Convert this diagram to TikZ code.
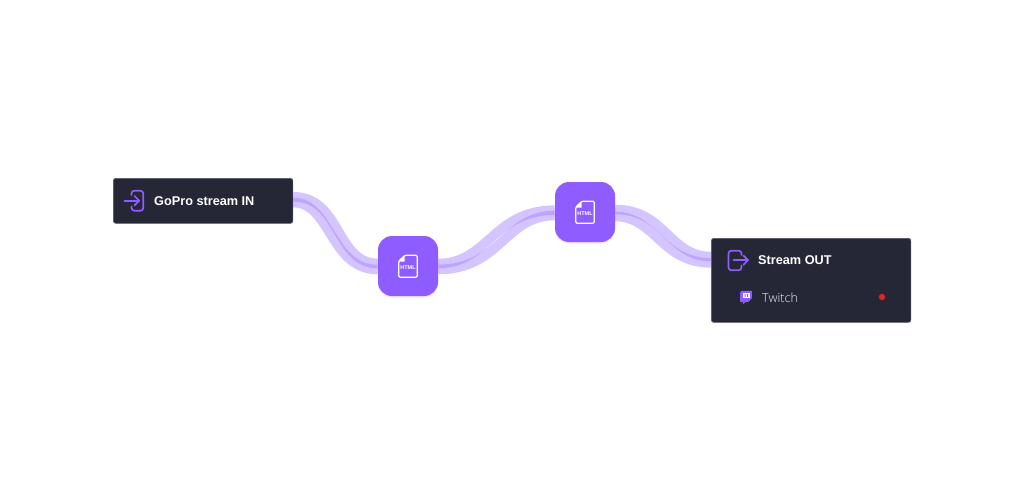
\documentclass[tikz,border=0pt]{standalone}
\usepackage{fontspec}
\usepackage{tikz}
\usetikzlibrary{backgrounds}
\usetikzlibrary{positioning}
\setmainfont{Liberation Sans}
\newfontfamily\thinfont{Open Sans Light}
\definecolor{panel}{HTML}{252736}
\definecolor{panelrim}{HTML}{55576A}
\definecolor{violet}{HTML}{8F5CFF}
\definecolor{wirecol}{HTML}{A583FF}
\definecolor{dotred}{HTML}{DC2626}
\definecolor{glow}{HTML}{F3C8FF}

\begin{document}
\begin{tikzpicture}[
      x=1pt,y=-1pt,
      panelbox/.style={draw=panelrim,line width=0.7pt,fill=panel,rounded corners=2.5pt,inner sep=0pt,anchor=north west},
      htmlbox/.style={fill=violet,rounded corners=14pt,minimum size=60pt,inner sep=0pt,
          preaction={fill=glow,opacity=0.55,transform canvas={yshift=-1.5pt}}},
      title/.style={font=\bfseries\fontsize{12.7}{14}\selectfont,text=white,inner sep=0pt,anchor=west},
      wire/.style={draw=wirecol,opacity=0.48,line width=9.6pt},
      iconline/.style={draw=violet,line width=1.7pt,line cap=round,line join=round},
      htmlfile/.pic={
          \draw[white,line width=1.2pt,line join=round,rounded corners=1.2pt]
              (-3,-10.8) -- (9.2,-10.8) -- (9.2,11.2) -- (-9.2,11.2) -- (-9.2,-5) -- cycle;
          \fill[white] (-3.4,-10.6) -- (-3.4,-4.4) -- (-9,-4.4) -- cycle;
          \node[white,inner sep=0pt,font=\bfseries\fontsize{5.5}{5}\selectfont] at (0,2) {HTML};
      },
    ]
    \useasboundingbox (0,0) rectangle (1024,500);

    % the two panels and the file tiles
    \node[panelbox,minimum width=179.5pt,minimum height=45pt] (gopro) at (113,178) {};
    \node[panelbox,minimum width=199.5pt,minimum height=84pt] (streamout) at (711,238) {};
    \node[htmlbox] (htmlone) at (408,266) {};
    \node[htmlbox] (htmltwo) at (585,212) {};

    % labels
    \node[title] (goprolabel) at (154,201.5) {GoPro stream IN};
    \node[title] (outlabel) at (758,260) {Stream OUT};
    \node[text=white!94!panel,inner sep=0pt,anchor=west,font=\thinfont\fontsize{12.5}{14}\selectfont] (twitch) at (762,298) {Twitch};
    \node[circle,fill=dotred,minimum size=6.5pt,inner sep=0pt] (status) at (882,297) {};

    \pic at (htmlone) {htmlfile};
    \pic at (htmltwo) {htmlfile};

    % enter icon
    \draw[iconline,rounded corners=2.8pt] (131.5,195) -- (131.5,190.7) -- (143.3,190.7) -- (143.3,210.7) -- (131.5,210.7) -- (131.5,206.5);
    \draw[iconline] (124.5,200.7) -- (139,200.7);
    \draw[iconline] (134.5,196) -- (139.2,200.7) -- (134.5,205.4);

    % exit icon
    \draw[iconline,rounded corners=2.8pt] (741.5,255) -- (741.5,250.7) -- (728.5,250.7) -- (728.5,270.3) -- (741.5,270.3) -- (741.5,265.5);
    \draw[iconline] (733.5,260.2) -- (748,260.2);
    \draw[iconline] (743.5,255.7) -- (748,260.2) -- (743.5,264.7);

    % twitch glyph
    \fill[violet,rounded corners=0.5pt] (741.5,290.8) -- (751.8,290.8) -- (751.8,298.5) -- (748,302) -- (745.5,302) -- (743,304.3) -- (743,302) -- (740,302) -- (740,293) -- cycle;
    \fill[white] (743.2,293.2) rectangle (749.8,297.8);
    \fill[violet] (744.6,294.2) rectangle (745.6,296.8) (747.2,294.2) rectangle (748.2,296.8);

    % wires run underneath everything
    \begin{pgfonlayer}{background}
        \draw[wire] ([yshift=4pt]gopro.east) .. controls +(48,0) and +(-42,0) .. ([yshift=2.5pt]htmlone.west);
        \draw[wire] ([yshift=-1.7pt]gopro.east) .. controls +(38,0) and +(-48,0) .. ([yshift=-3.5pt]htmlone.west);
        \draw[wire] ([yshift=2.5pt]htmlone.east) .. controls +(50,0) and +(-62,0) .. ([yshift=1.8pt]htmltwo.west);
        \draw[wire] ([yshift=-3.5pt]htmlone.east) .. controls +(62,0) and +(-50,0) .. ([yshift=-3.5pt]htmltwo.west);
        \draw[wire] ([yshift=2.5pt]htmltwo.east) .. controls +(50,0) and +(-42,0) .. ([yshift=23.8pt]streamout.west);
        \draw[wire] ([yshift=-4.5pt]htmltwo.east) .. controls +(40,0) and +(-50,0) .. ([yshift=17.5pt]streamout.west);
    \end{pgfonlayer}
\end{tikzpicture}
\end{document}
